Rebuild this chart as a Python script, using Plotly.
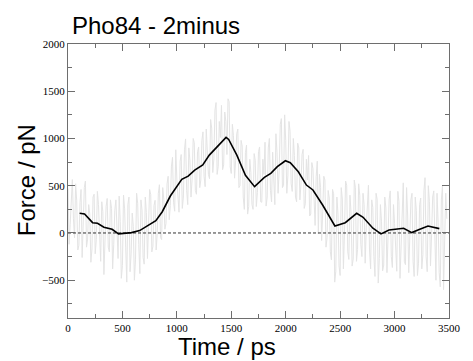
import plotly.graph_objects as go

# Raw (noisy) force trace (10 ps spacing)
raw_force = [
    470, -120, 90, 380, 565, 150, -50, 520, 340, -180,
    -130, 320, 460, -260, 95, 480, 550, -150, -65, 300,
    200, -310, -170, 380, 410, -220, -70, 440, 300, -90,
    -300, 330, 225, -440, 5, 280, 365, -150, -200, 350,
    260, -380, -120, 240, 350, -60, -270, 390, 120, -480,
    -345, 400, 255, -150, -520, 300, 380, -410, -215, 210,
    70, -500, -285, 420, 315, -120, -430, 350, 240, -260,
    -330, 380, 215, -270, 20, 460, 405, -200, -140, 290,
    345, -180, 0, 420, 510, -50, -70, 480, 360, 40,
    100, 520, 600, 140, 290, 700, 800, 320, 230, 880,
    560, 300, 220, 760, 830, 260, 380, 880, 995, 450,
    300, 900, 765, 380, 570, 1000, 955, 450, 410, 860,
    910, 480, 560, 980, 1070, 600, 490, 1100, 920, 620,
    575, 1200, 1110, 640, 785, 1300, 1380, 620, 705, 1180,
    1010, 1350, 670, 720, 1280, 1180, 830, 1420, 1390, 700,
    630, 1150, 1030, 580, 770, 1050, 1100, 480, 500, 980,
    920, 380, 250, 850, 930, 200, 280, 780, 640, 300,
    250, 840, 770, 280, 430, 860, 910, 330, 325, 780,
    620, 960, 285, 380, 900, 1000, 450, 330, 855, 500,
    300, 1050, 850, 420, 660, 1150, 1210, 480, 505, 1250,
    980, 420, 605, 1180, 1075, 520, 440, 1000, 820, 380,
    330, 950, 900, 350, 510, 830, 885, 260, 310, 780,
    560, 820, 180, 200, 745, 680, 250, 80, 600, 760,
    -10, 620, 480, -80, 230, 600, 560, -150, -50, 450,
    370, -200, -285, 460, 415, -520, -405, 380, 200, -350,
    -450, 480, 360, -380, 20, 550, 505, -200, -280, 400,
    220, -350, -275, 560, 480, -300, -175, 520, 400, -120,
    -250, 420, 300, -320, 60, 380, 505, -180, -380, 350,
    270, -250, -460, 420, 355, -530, -270, 300, 125, -400,
    -340, 380, 265, -420, -75, 350, 445, -250, -365, 300,
    100, -280, -405, 440, 335, -480, -130, 380, 530, -300,
    -335, 480, 190, -420, -30, 350, 420, -300, -460, 380,
    240, -450, -320, 300, 370, -380, -230, 450, 585, -250,
    -410, 500, 335, -350, -20, 380, 445, -200, -500, 420,
    110, -420, -570, 350, 500, -600, -200, 420, 150,
]
raw_time = [i * 10 for i in range(len(raw_force))]

# Running-average force trace
avg_time = [107, 152, 226, 271, 330, 405, 464, 524, 583, 658, 717, 807, 866, 940,
            1045, 1104, 1164, 1238, 1298, 1357, 1417, 1452, 1476, 1551, 1630, 1714,
            1804, 1863, 1923, 1997, 2042, 2116, 2190, 2250, 2339, 2452, 2547, 2652,
            2711, 2801, 2875, 2949, 3083, 3158, 3232, 3307, 3411]
avg_force = [208, 200, 109, 102, 60, 39, -10, -4, 4, 25, 67, 130, 225, 391,
             567, 602, 666, 719, 824, 895, 965, 1012, 990, 824, 610, 490,
             588, 631, 701, 764, 743, 648, 507, 455, 296, 74, 109, 208,
             166, 50, -10, 32, 50, 4, 39, 74, 46]

zero_x = [0, 3500]
zero_y = [0, 0]

x_ticks = [0, 500, 1000, 1500, 2000, 2500, 3000, 3500]
y_ticks = [-500, 0, 500, 1000, 1500, 2000]

fig = go.Figure()
fig.add_trace(go.Scatter(x=raw_time, y=raw_force, mode="lines",
                         line=dict(color="#e4e4e4", width=1), hoverinfo="skip"))
fig.add_trace(go.Scatter(x=zero_x, y=zero_y, mode="lines",
                         line=dict(color="#333333", width=1, dash="3px,2px")))
fig.add_trace(go.Scatter(x=avg_time, y=avg_force, mode="lines",
                         line=dict(color="black", width=1.6)))

serif = "Liberation Serif, Times New Roman, Times, serif"
axis_common = dict(
    showline=True, linecolor="#6e6e6e", linewidth=1, mirror="ticks",
    ticks="inside", ticklen=7, tickcolor="#6e6e6e", tickwidth=1,
    showgrid=False, zeroline=False,
    tickfont=dict(family=serif, size=11, color="black"),
)

fig.update_xaxes(range=[0, 3500], tickvals=x_ticks,
                 minor=dict(ticks="inside", ticklen=4, dtick=250, tickcolor="#6e6e6e", showgrid=False),
                 **axis_common)
fig.update_yaxes(range=[-900, 2000], tickvals=y_ticks,
                 minor=dict(ticks="inside", ticklen=4, dtick=250, tick0=0, tickcolor="#6e6e6e", showgrid=False),
                 **axis_common)

sans = dict(family="Liberation Sans, Arial", size=24, color="black")
fig.update_layout(
    width=473, height=361,
    margin=dict(l=68, r=13, t=44, b=43),
    paper_bgcolor="white", plot_bgcolor="white",
    showlegend=False,
    annotations=[
        dict(text="Pho84 - 2minus", xref="paper", yref="paper", x=0.005, y=1.069,
             xanchor="left", yanchor="middle", showarrow=False, font=sans),
        dict(text="Time / ps", xref="paper", yref="paper", x=0.418, y=-0.105,
             xanchor="center", yanchor="middle", showarrow=False, font=sans),
        dict(text="Force / pN", xref="paper", yref="paper", x=-0.107, y=0.504,
             xanchor="center", yanchor="middle", textangle=-90, showarrow=False, font=sans),
    ],
)

fig.write_html("out.html")
